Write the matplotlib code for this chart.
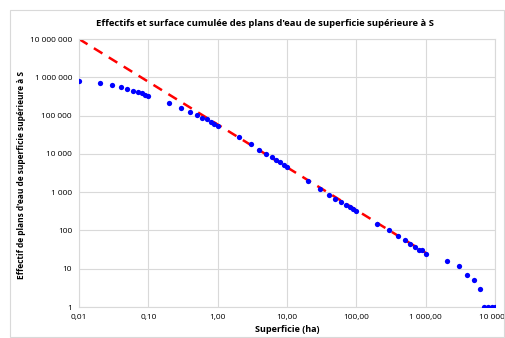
import matplotlib.pyplot as plt
from matplotlib.patches import Rectangle
from matplotlib.ticker import FixedLocator, NullLocator

# surface thresholds S (ha) and number of water bodies larger than S
surface = [0.01, 0.02, 0.03, 0.04, 0.05, 0.06, 0.07, 0.08, 0.09, 0.1,
           0.2, 0.3, 0.4, 0.5, 0.6, 0.7, 0.8, 0.9, 1,
           2, 3, 4, 5, 6, 7, 8, 9, 10,
           20, 30, 40, 50, 60, 70, 80, 90, 100,
           200, 300, 400, 500, 600, 700, 800, 900, 1000,
           2000, 3000, 4000, 5000, 6000, 7000, 8000, 9000, 10000]
effectif = [815000, 710000, 620000, 550000, 487000, 440000, 405000, 380000, 352000, 325000,
            213000, 158000, 126000, 104000, 88000, 80000, 69000, 61000, 55000,
            27000, 18000, 12800, 10100, 8300, 6900, 6000, 5200, 4600,
            1950, 1180, 860, 650, 555, 470, 410, 360, 330,
            148, 103, 73, 56, 44, 36, 30, 30, 24,
            16, 12, 7, 5, 3, 1, 1, 1, 1]

# power-law trend line end points
trend_x = [0.01, 1000]
trend_y = [1e7, 26]

x_ticks = [0.01, 0.1, 1, 10, 100, 1000, 10000]
x_labels = ["0,01", "0,10", "1,00", "10,00", "100,00", "1 000,00", "10 000,0"]
y_ticks = [1, 10, 100, 1000, 1e4, 1e5, 1e6, 1e7]
y_labels = ["1", "10", "100", "1 000", "10 000", "100 000", "1 000 000", "10 000 000"]

plt.rcParams['font.family'] = ['Open Sans', 'DejaVu Sans']

fig = plt.figure(figsize=(5.05, 3.38), dpi=100)
fig.patches.append(Rectangle((10 / 505, 0.002), 494 / 505, 1 - 10 / 338 - 0.002,
                             transform=fig.transFigure, fill=False,
                             edgecolor='#d9d9d9', linewidth=0.8))
ax = fig.add_axes([79 / 505, 1 - 307 / 338, 416 / 505, 268 / 338])

ax.plot(trend_x, trend_y, color='#ff0000', linewidth=1.8, dashes=(4, 3), zorder=2)
ax.plot(surface, effectif, 'o', color='#0000ff', markersize=3.8, markeredgewidth=0, zorder=3)

ax.set_xscale('log')
ax.set_yscale('log')
ax.set_xlim(0.01, 10000)
ax.set_ylim(1, 1e7)
ax.xaxis.set_major_locator(FixedLocator(x_ticks))
ax.yaxis.set_major_locator(FixedLocator(y_ticks))
ax.xaxis.set_minor_locator(NullLocator())
ax.yaxis.set_minor_locator(NullLocator())
ax.set_xticklabels(x_labels, fontsize=6)
ax.set_yticklabels(y_labels, fontsize=6)
ax.tick_params(length=0, pad=5)
ax.grid(True, color='#d9d9d9', linewidth=0.8)
for s in ax.spines.values():
    s.set_color('#d9d9d9')
    s.set_linewidth(0.8)
ax.set_axisbelow(True)

ax.set_xlabel("Superficie (ha)", fontsize=6.5, fontweight='bold', labelpad=3)
fig.text(22 / 505, 1 - 175 / 338, "Effectif de plans d'eau de superficie supérieure à S",
         rotation=90, ha='center', va='center', fontsize=6, fontweight='bold')
fig.text(265 / 505, 1 - 24 / 338,
         "Effectifs et surface cumulée des plans d'eau de superficie supérieure à S",
         ha='center', va='center', fontsize=6.8, fontweight='bold')

fig.savefig('out.png', dpi=100)
